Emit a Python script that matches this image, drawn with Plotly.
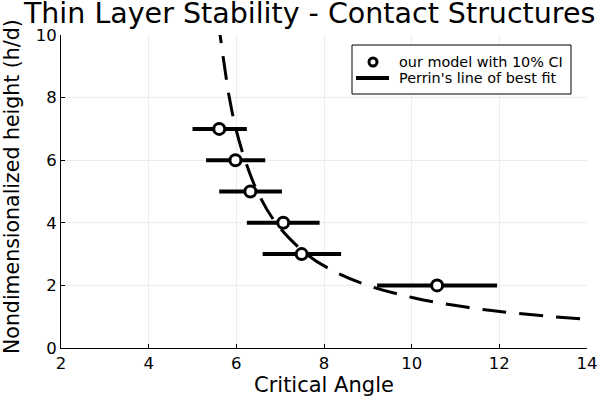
import plotly.graph_objects as go

# our model: critical angle vs height, with CI bounds
model_angle = [5.61, 5.98, 6.32, 7.07, 7.49, 10.58]
model_height = [7, 6, 5, 4, 3, 2]
ci_low = [5.00, 5.31, 5.61, 6.24, 6.60, 9.21]
ci_high = [6.24, 6.66, 7.04, 7.90, 8.39, 11.95]

# Perrin's best fit curve
perrin_angle = [5.59, 5.63, 5.73, 5.84, 5.99, 6.20, 6.48, 6.90, 7.60, 8.16,
                9.00, 10.06, 11.27, 12.45, 13.85, 14.05]
perrin_height = [10.5, 10.0, 9.0, 8.0, 7.0, 6.0, 5.0, 4.0, 3.0, 2.5,
                 2.0, 1.6, 1.3, 1.1, 0.93, 0.91]

legend_labels = ['our model with 10% CI', "Perrin's line of best fit"]

err_plus = [h - a for a, h in zip(model_angle, ci_high)]
err_minus = [a - l for a, l in zip(model_angle, ci_low)]

# plot area in pixels
L, T, PW, PH = 61, 35, 526, 313


def fx(px):
    return (px - L) / PW


def fy(py):
    return 1 - (py - T) / PH


fig = go.Figure()
fig.add_trace(go.Scatter(
    x=perrin_angle, y=perrin_height, name=legend_labels[1],
    mode='lines', line_shape='spline',
    line=dict(color='black', width=3, dash='24px,13px'),
))
fig.add_trace(go.Scatter(
    x=model_angle, y=model_height, name=legend_labels[0],
    mode='markers',
    marker=dict(symbol='circle', size=11, color='white',
                line=dict(color='black', width=3)),
    error_x=dict(type='data', symmetric=False, array=err_plus,
                 arrayminus=err_minus, color='black', thickness=4, width=0),
))

# hand made legend box (plotly's own legend spaces rows too far apart)
shapes = [
    dict(type='rect', xref='paper', yref='paper',
         x0=fx(352), x1=fx(571), y0=fy(94), y1=fy(45),
         line=dict(color='black', width=1), fillcolor='white'),
    dict(type='circle', xref='paper', yref='paper',
         xsizemode='pixel', ysizemode='pixel',
         xanchor=fx(373), yanchor=fy(62), x0=-4, x1=4, y0=-4, y1=4,
         line=dict(color='black', width=3), fillcolor='white'),
    dict(type='line', xref='paper', yref='paper',
         x0=fx(356), x1=fx(389), y0=fy(78), y1=fy(78),
         line=dict(color='black', width=4)),
]
annotations = [
    dict(text=legend_labels[0], xref='paper', yref='paper', x=fx(397), y=fy(62),
         xanchor='left', yanchor='middle', showarrow=False, font=dict(size=14.4)),
    dict(text=legend_labels[1], xref='paper', yref='paper', x=fx(397), y=fy(78),
         xanchor='left', yanchor='middle', showarrow=False, font=dict(size=14.4)),
    dict(text='Nondimensionalized height (h/d)', xref='paper', yref='paper',
         x=fx(12), y=fy(187), xanchor='center', yanchor='middle',
         textangle=-90, showarrow=False, font=dict(size=20.5)),
    dict(text='Critical Angle', xref='paper', yref='paper',
         x=fx(324), y=fy(385), xanchor='center', yanchor='middle',
         showarrow=False, font=dict(size=21)),
]

fig.update_layout(
    width=600, height=400, showlegend=False,
    margin=dict(l=L, r=600 - L - PW, t=T, b=400 - T - PH, autoexpand=False),
    plot_bgcolor='white', paper_bgcolor='white',
    font=dict(family='DejaVu Sans', color='black'),
    title=dict(text='Thin Layer Stability - Contact Structures',
               x=0.516, xanchor='center', y=0.9675, yanchor='middle',
               font=dict(size=28.5)),
    shapes=shapes, annotations=annotations,
)
axis_common = dict(
    showgrid=True, gridcolor='#ececec', gridwidth=1,
    showline=True, linecolor='black', linewidth=1,
    ticks='inside', ticklen=4, tickcolor='black',
    zeroline=False, tickfont=dict(size=16.5), automargin=False,
)
fig.update_xaxes(range=[2, 14], tickvals=[2, 4, 6, 8, 10, 12, 14], **axis_common)
fig.update_yaxes(range=[0, 10], tickvals=[0, 2, 4, 6, 8, 10], **axis_common)

# drop the browser's default body margin so the figure sits at the page corner
fig.write_html("out.html", config={'displayModeBar': False},
               post_script="document.body.style.margin = '0';")
